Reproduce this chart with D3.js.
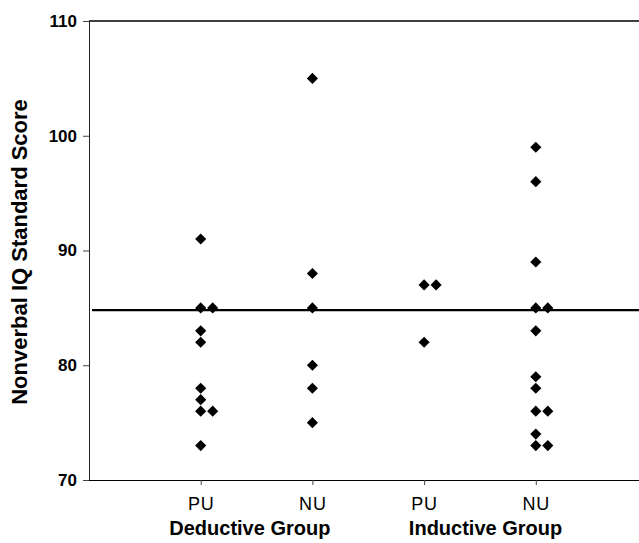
<!DOCTYPE html>
<html>
<head>
<meta charset="utf-8">
<script src="https://cdn.jsdelivr.net/npm/d3@7"></script>
<style>
  body { margin: 0; background: #fff; }
  text { font-family: "Liberation Sans", Arial, sans-serif; }
</style>
</head>
<body>
<div id="chart"></div>
<script>
// categories along the x axis (position 1..4)
const subgroups = ["PU", "NU", "PU", "NU"];
const groups = ["Deductive Group", "Inductive Group"];
const groupCenters = [1.44, 3.55];

// nonverbal IQ scores per column
const deductivePU = [91, 85, 85, 83, 82, 78, 77, 76, 76, 73];
const deductiveNU = [105, 88, 85, 80, 78, 75];
const inductivePU = [87, 87, 82];
const inductiveNU = [99, 96, 89, 85, 85, 83, 79, 78, 76, 76, 74, 73, 73];
const columns = [deductivePU, deductiveNU, inductivePU, inductiveNU];

const cutoff = 84.8;
const yTicks = [70, 80, 90, 100, 110];

const width = 639, height = 543;
const svg = d3.select("#chart").append("svg")
  .attr("width", width)
  .attr("height", height);

const x = d3.scaleLinear().domain([0, 5]).range([89, 647.5]);
const y = d3.scaleLinear().domain([70, 110]).range([480, 21]);

// flatten points, shifting repeated values sideways
const points = [];
columns.forEach((vals, i) => {
  const seen = {};
  vals.forEach(v => {
    const k = seen[v] || 0;
    seen[v] = k + 1;
    points.push({ pos: i + 1, value: v, dup: k });
  });
});

// top frame line
svg.append("line")
  .attr("x1", x(0)).attr("x2", width)
  .attr("y1", y(110)).attr("y2", y(110))
  .attr("stroke", "#000").attr("stroke-width", 1.5);

// y axis
const yAxis = svg.append("g")
  .attr("transform", `translate(${x(0)},0)`)
  .call(d3.axisLeft(y).tickValues(yTicks).tickSize(6).tickPadding(6));
yAxis.select(".domain").attr("stroke", "#222");
yAxis.selectAll(".tick line").attr("stroke", "#444");
yAxis.selectAll("text")
  .attr("font-size", 17).attr("font-weight", "bold").attr("fill", "#000")
  .attr("font-family", "Liberation Sans, Arial, sans-serif");

// x axis
const xAxis = svg.append("g")
  .attr("transform", `translate(0,${y(70)})`)
  .call(d3.axisBottom(x).tickValues([1, 2, 3, 4])
    .tickFormat(d => subgroups[d - 1]).tickSize(5).tickPadding(12));
xAxis.select(".domain").attr("d", `M${x(0)},0.5H${width}`).attr("stroke", "#000");
xAxis.selectAll(".tick line").attr("stroke", "#444");
xAxis.selectAll("text")
  .attr("font-size", 18).attr("fill", "#000")
  .attr("letter-spacing", 0.8)
  .attr("font-family", "Liberation Sans, Arial, sans-serif");

// group labels
svg.selectAll(".group-label")
  .data(groups)
  .join("text")
  .attr("class", "group-label")
  .attr("x", (d, i) => x(groupCenters[i]))
  .attr("y", 535)
  .attr("text-anchor", "middle")
  .attr("font-size", 20)
  .attr("font-weight", "bold")
  .text(d => d);

// y title
svg.append("text")
  .attr("transform", "translate(27,252) rotate(-90)")
  .attr("text-anchor", "middle")
  .attr("font-size", 22)
  .attr("font-weight", "bold")
  .text("Nonverbal IQ Standard Score");

// cutoff line
svg.append("line")
  .attr("x1", x(0) + 3).attr("x2", width)
  .attr("y1", y(cutoff)).attr("y2", y(cutoff))
  .attr("stroke", "#000").attr("stroke-width", 2.2);

// diamonds
const diamond = d3.symbol().type(d3.symbolSquare).size(62);
svg.selectAll(".pt")
  .data(points)
  .join("path")
  .attr("class", "pt")
  .attr("d", diamond)
  .attr("transform", d => `translate(${x(d.pos) + d.dup * 12},${y(d.value)}) rotate(45)`)
  .attr("fill", "#000");
</script>
</body>
</html>
